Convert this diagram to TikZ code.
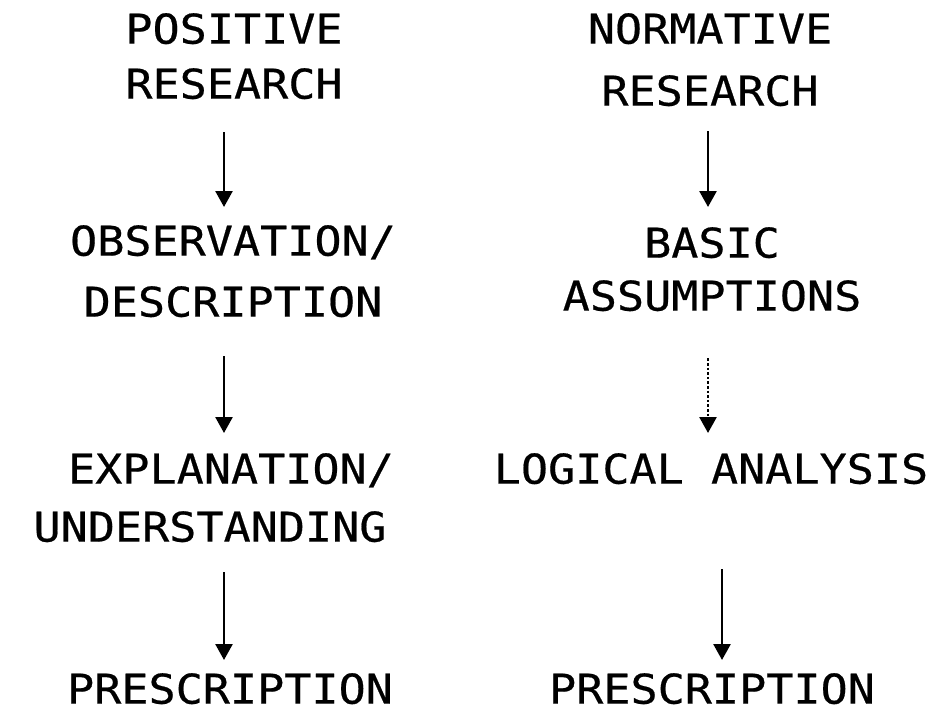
\documentclass[tikz,border=0pt]{standalone}
\usepackage{fontspec}
\setmainfont{DejaVu Sans Mono}[FakeStretch=1.1, FakeBold=0.5]
\usepackage{tikz}
\usetikzlibrary{arrows.meta}
\usetikzlibrary{positioning}

\begin{document}
\begin{tikzpicture}[x=1pt, y=-1pt,
  lbl/.style={anchor=north, align=center, inner sep=0pt, font=\fontsize{41}{58}\selectfont},
  arr/.style={line width=2.6pt, -{Triangle[width=17pt,length=16pt]}}]

\useasboundingbox (0,0) rectangle (933,714);
\coordinate (lx) at (224,0);
\coordinate (rx) at (708,0);
\coordinate (rx2) at (722,0);

% positive research
\node (pos) at (234,13) [lbl] {POSITIVE\\[-3pt]RESEARCH};
\node (obs) at (233,225) [lbl] {OBSERVATION/\\[3pt]DESCRIPTION};
\node (expl) at (210,453) [lbl] {\hspace*{42pt}EXPLANATION/\\UNDERSTANDING};
\node (presl) at (230,673) [lbl] {PRESCRIPTION};

% normative research
\node (norm) at (710,13) [lbl] {NORMATIVE\\[4pt]RESEARCH};
\node (basic) at (712,227) [lbl] {BASIC\\[-5pt]ASSUMPTIONS};
\node (log) at (711,453) [lbl] {LOGICAL ANALYSIS};
\node (presr) at (712,673) [lbl] {PRESCRIPTION};

\draw[arr, shorten <=33pt, shorten >=18pt] (pos.south -| lx) -- (obs.north -| lx);
\draw[arr, shorten <=39pt, shorten >=20pt] (obs.south -| lx) -- (expl.north -| lx);
\draw[arr, shorten <=30pt, shorten >=13pt] (expl.south -| lx) -- (presl.north -| lx);

\draw[arr, shorten <=25pt, shorten >=20pt] (norm.south -| rx) -- (basic.north -| rx);
\draw[arr, dotted, shorten <=47pt, shorten >=20pt] (basic.south -| rx) -- (log.north -| rx);
\draw[arr, shorten <=85pt, shorten >=13pt] (log.south -| rx2) -- (presr.north -| rx2);

\end{tikzpicture}
\end{document}
